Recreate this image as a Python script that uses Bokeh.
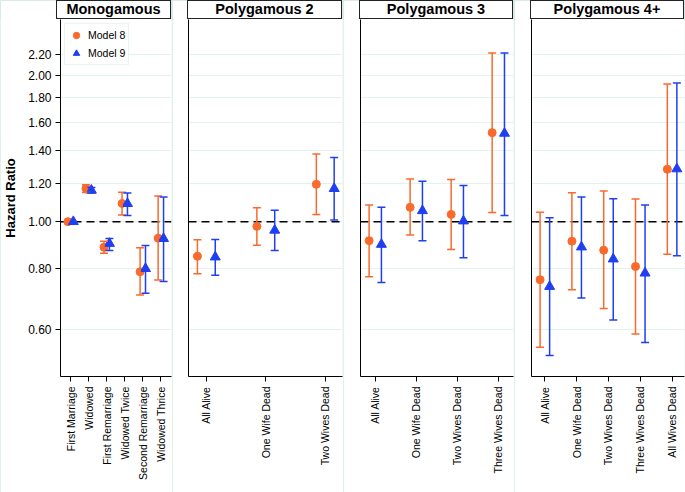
import math
import numpy as np
from bokeh.plotting import figure
from bokeh.layouts import row, column
from bokeh.models import (ColumnDataSource, Range1d, FixedTicker, PrintfTickFormatter,
                          Whisker, TeeHead, Span, Div)
from bokeh.embed import file_html
from bokeh.resources import INLINE

nan = float("nan")

# ---------------- data ----------------
panel_titles = ["Monogamous", "Polygamous 2", "Polygamous 3", "Polygamous 4+"]

mono_cats = ["First Marriage", "Widowed", "First Remarriage", "Widowed Twice",
             "Second Remarriage", "Widowed Thrice"]
mono_m8 = [1.00, 1.170, 0.886, 1.090, 0.789, 0.925]
mono_m8_lo = [nan, 1.148, 0.861, 1.032, 0.707, 0.759]
mono_m8_hi = [nan, 1.190, 0.912, 1.149, 0.884, 1.129]
mono_m9 = [1.00, 1.160, 0.902, 1.089, 0.801, 0.923]
mono_m9_lo = [nan, 1.145, 0.873, 1.029, 0.713, 0.754]
mono_m9_hi = [nan, 1.175, 0.924, 1.145, 0.893, 1.123]

p2_cats = ["All Alive", "One Wife Dead", "Two Wives Dead"]
p2_m8 = [0.849, 0.978, 1.193]
p2_m8_lo = [0.782, 0.895, 1.035]
p2_m8_hi = [0.918, 1.068, 1.377]
p2_m9 = [0.846, 0.960, 1.169]
p2_m9_lo = [0.776, 0.873, 1.008]
p2_m9_hi = [0.919, 1.055, 1.354]

p3_cats = ["All Alive", "One Wife Dead", "Two Wives Dead", "Three Wives Dead"]
p3_m8 = [0.914, 1.070, 1.035, 1.523]
p3_m8_lo = [0.771, 0.939, 0.877, 1.044]
p3_m8_hi = [1.082, 1.223, 1.220, 2.220]
p3_m9 = [0.898, 1.053, 1.003, 1.518]
p3_m9_lo = [0.750, 0.914, 0.843, 1.030]
p3_m9_hi = [1.070, 1.210, 1.186, 2.220]

p4_cats = ["All Alive", "One Wife Dead", "Two Wives Dead", "Three Wives Dead",
           "All Wives Dead"]
p4_m8 = [0.760, 0.912, 0.874, 0.809, 1.281]
p4_m8_lo = [0.552, 0.725, 0.663, 0.588, 0.857]
p4_m8_hi = [1.046, 1.147, 1.156, 1.113, 1.917]
p4_m9 = [0.736, 0.887, 0.838, 0.784, 1.283]
p4_m9_lo = [0.531, 0.697, 0.628, 0.565, 0.851]
p4_m9_hi = [1.019, 1.123, 1.115, 1.082, 1.926]

y_ticks = [0.60, 0.80, 1.00, 1.20, 1.40, 1.60, 1.80, 2.00, 2.20]
series_names = ["Model 8", "Model 9"]

# ---------------- style ----------------
ORANGE = "#f96a2c"
BLUE = "#1f3ff2"
GRID = "#e2f2ef"
FRAME = "#d6ece8"
FONT = "Liberation Sans"

panels = [
    (mono_cats, mono_m8, mono_m8_lo, mono_m8_hi, mono_m9, mono_m9_lo, mono_m9_hi),
    (p2_cats, p2_m8, p2_m8_lo, p2_m8_hi, p2_m9, p2_m9_lo, p2_m9_hi),
    (p3_cats, p3_m8, p3_m8_lo, p3_m8_hi, p3_m9, p3_m9_lo, p3_m9_hi),
    (p4_cats, p4_m8, p4_m8_lo, p4_m8_hi, p4_m9, p4_m9_lo, p4_m9_hi),
]
x_pads = [(0.56, 0.59), (0.30, 0.29), (0.36, 0.37), (0.42, 0.39)]
widths = [172, 171, 171, 171]
borders_left = [57, 16, 17, 17]
STRIP_H = 19
FIG_H = 492 - STRIP_H
DODGE = 0.15

y_range = Range1d(0.481, 2.60)
cols = []
for i, (cats, a, alo, ahi, b, blo, bhi) in enumerate(panels):
    n = len(cats)
    lp, rp = x_pads[i]
    frame_w = widths[i] - borders_left[i] - 1
    p = figure(width=widths[i], height=FIG_H, y_axis_type="log",
               x_range=Range1d(-lp, n - 1 + rp), y_range=y_range,
               output_backend="svg", toolbar_location=None,
               min_border_left=borders_left[i], min_border_right=1,
               min_border_top=0, min_border_bottom=116)
    p.outline_line_color = None
    p.background_fill_color = "white"
    p.border_fill_color = "white"

    # grid
    p.xgrid.grid_line_color = None
    p.ygrid.grid_line_color = GRID
    p.ygrid.grid_line_width = 1

    # x axis
    idx = np.arange(n)
    p.xaxis.ticker = FixedTicker(ticks=list(idx))
    p.xaxis.major_label_overrides = {int(k): c for k, c in enumerate(cats)}
    p.xaxis.major_label_orientation = math.pi / 2
    p.xaxis.major_label_text_font = FONT
    p.xaxis.major_label_text_font_size = "10.5px"
    p.xaxis.major_label_text_color = "black"
    p.xaxis.major_label_standoff = 5
    p.xaxis.major_tick_out = 5
    p.xaxis.major_tick_in = 0
    p.xaxis.minor_tick_line_color = None
    p.xaxis.axis_line_color = "black"
    p.xaxis.major_tick_line_color = "black"

    # y axis
    p.yaxis.axis_line_color = "black"
    p.yaxis.minor_tick_line_color = None
    if i == 0:
        p.yaxis.ticker = FixedTicker(ticks=y_ticks)
        p.yaxis.formatter = PrintfTickFormatter(format="%.2f")
        p.yaxis.major_label_text_font = FONT
        p.yaxis.major_label_text_font_size = "12px"
        p.yaxis.major_label_text_color = "black"
        p.yaxis.major_label_standoff = 4
        p.yaxis.major_tick_out = 5
        p.yaxis.major_tick_in = 0
        p.yaxis.major_tick_line_color = "black"
        p.yaxis.axis_label = "Hazard Ratio"
        p.yaxis.axis_label_text_font = FONT
        p.yaxis.axis_label_text_font_size = "13px"
        p.yaxis.axis_label_text_font_style = "bold"
        p.yaxis.axis_label_text_color = "black"
        p.yaxis.axis_label_standoff = 7
    else:
        p.yaxis.ticker = FixedTicker(ticks=[])
        p.yaxis.major_tick_out = 0
        p.yaxis.major_tick_in = 0
        p.yaxis.major_label_standoff = 0
    p.ygrid.ticker = FixedTicker(ticks=y_ticks)

    # reference line
    p.add_layout(Span(location=1.0, dimension="width", line_color="black",
                      line_width=1.5, line_dash="8 5", level="underlay"))

    for (est, lo, hi, col, marker, size, off, name) in [
        (a, alo, ahi, ORANGE, "circle", 8, -DODGE, series_names[0]),
        (b, blo, bhi, BLUE, "triangle", 10, DODGE, series_names[1]),
    ]:
        xs = idx + off
        lo_a = np.array(lo, dtype=float)
        hi_a = np.array(hi, dtype=float)
        ok = ~np.isnan(lo_a)
        wsrc = ColumnDataSource(dict(x=xs[ok], lo=lo_a[ok], hi=hi_a[ok]))
        w = Whisker(source=wsrc, base="x", lower="lo", upper="hi", dimension="height",
                    line_color=col, line_width=1.5, level="glyph",
                    upper_head=TeeHead(size=8, line_color=col, line_width=1.5),
                    lower_head=TeeHead(size=8, line_color=col, line_width=1.5))
        p.add_layout(w)
        src = ColumnDataSource(dict(x=xs, y=est))
        kw = dict(legend_label=name) if i == 0 else {}
        p.scatter("x", "y", source=src, marker=marker, size=size,
                  fill_color=col, line_color=col, **kw)

    if i == 0:
        lg = p.legend[0]
        lg.location = "top_left"
        lg.margin = 4
        lg.padding = 3
        lg.spacing = 2
        lg.border_line_color = FRAME
        lg.border_line_width = 1
        lg.label_text_font = FONT
        lg.label_text_font_size = "10.5px"
        lg.label_text_color = "black"
        lg.glyph_width = 16
        lg.glyph_height = 16
        lg.label_standoff = 4
        lg.label_height = 16
        lg.background_fill_alpha = 1.0

    strip = Div(text=panel_titles[i], width=frame_w + 1, height=STRIP_H,
                margin=(0, 0, 0, borders_left[i] - 1),
                styles={"box-sizing": "border-box", "border": "1px solid #222",
                        "background": "white", "text-align": "center",
                        "font-family": FONT, "font-size": "14.5px",
                        "font-weight": "bold", "color": "black",
                        "line-height": "17px", "overflow": "hidden"})
    cols.append(column(strip, p, spacing=0,
                       styles={"outline": "1px solid " + FRAME,
                               "outline-offset": "-1px"}))

layout = row(*cols, spacing=0)
open("out.html", "w").write(file_html(layout, INLINE))
